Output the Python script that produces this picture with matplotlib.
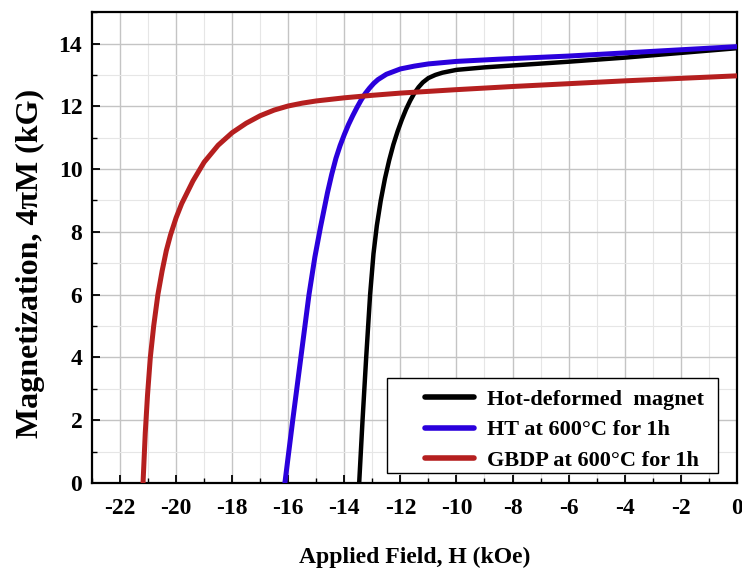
import numpy as np
import matplotlib
matplotlib.use("Agg")
import matplotlib.pyplot as plt
from matplotlib.ticker import MultipleLocator
from matplotlib.patches import Rectangle

plt.rcParams['font.family'] = ['Liberation Serif', 'DejaVu Serif']
plt.rcParams['font.weight'] = 'bold'
plt.rcParams['axes.unicode_minus'] = False

# demagnetization curves (H in kOe, 4piM in kG)
h_hot = [-13.47, -13.35, -13.22, -13.08, -12.96, -12.84, -12.7, -12.55, -12.4, -12.25,
         -12.1, -11.95, -11.8, -11.65, -11.5, -11.35, -11.2, -11.0, -10.75, -10.5,
         -10.0, -9.0, -8.0, -6.0, -4.0, -2.0, 0.0]
m_hot = [0.0, 2.0, 4.0, 6.0, 7.3, 8.2, 9.0, 9.7, 10.28, 10.78,
         11.2, 11.57, 11.9, 12.18, 12.42, 12.61, 12.76, 12.9, 13.0, 13.07,
         13.16, 13.24, 13.3, 13.42, 13.55, 13.7, 13.85]

h_ht = [-16.12, -15.84, -15.55, -15.26, -15.05, -14.85, -14.6, -14.45, -14.3, -14.15,
        -14.0, -13.85, -13.7, -13.55, -13.4, -13.25, -13.1, -12.95, -12.8, -12.5,
        -12.0, -11.5, -11.0, -10.0, -8.5, -6.0, -4.0, -2.0, 0.0]
m_ht = [0.0, 2.0, 4.0, 6.0, 7.2, 8.15, 9.25, 9.83, 10.34, 10.75,
        11.1, 11.42, 11.7, 11.96, 12.2, 12.41, 12.58, 12.73, 12.85, 13.02,
        13.19, 13.28, 13.35, 13.43, 13.5, 13.6, 13.7, 13.8, 13.9]

h_gbdp = [-21.18, -21.1, -21.02, -20.92, -20.8, -20.65, -20.5, -20.35, -20.2, -20.0,
          -19.8, -19.4, -19.0, -18.5, -18.0, -17.5, -17.0, -16.5, -16.0, -15.5,
          -15.0, -14.0, -13.0, -12.0, -10.0, -8.0, -6.0, -4.0, -2.0, 0.0]
m_gbdp = [0.0, 1.6, 2.8, 4.0, 5.0, 6.0, 6.75, 7.4, 7.9, 8.45,
          8.9, 9.62, 10.22, 10.76, 11.16, 11.46, 11.7, 11.88, 12.01, 12.1,
          12.17, 12.27, 12.35, 12.42, 12.53, 12.63, 12.72, 12.81, 12.89, 12.97]

labels = ["Hot-deformed  magnet", "HT at 600\u00b0C for 1h", "GBDP at 600\u00b0C for 1h"]
colors = ["#000000", "#2a00dc", "#b51f1f"]

fig = plt.figure(figsize=(7.42, 5.77), dpi=100)
ax = fig.add_axes([0.124, 0.163, 0.869, 0.816])

ax.plot(h_hot, m_hot, color=colors[0], lw=3.2, label=labels[0], zorder=3)
ax.plot(h_ht, m_ht, color=colors[1], lw=3.6, label=labels[1], zorder=3)
ax.plot(h_gbdp, m_gbdp, color=colors[2], lw=3.6, label=labels[2], zorder=3)

ax.set_xlim(-23, 0)
ax.set_ylim(0, 15)
ax.xaxis.set_minor_locator(MultipleLocator(1))
ax.yaxis.set_minor_locator(MultipleLocator(1))
ax.set_xticks(np.arange(-22, 1, 2))
ax.set_yticks(np.arange(0, 15, 2))

ax.grid(which='major', color='#c4c4c4', lw=1.0)
ax.grid(which='minor', color='#e6e6e6', lw=0.8)
ax.set_axisbelow(True)

ax.tick_params(which='major', direction='in', length=6, width=1.3, labelsize=17)
ax.tick_params(axis='x', which='major', pad=11)
ax.tick_params(axis='y', which='major', pad=7)
ax.tick_params(which='minor', direction='in', length=3.5, width=1.0)
for s in ax.spines.values():
    s.set_linewidth(1.6)

ax.set_xlabel("Applied Field, H (kOe)", fontsize=17, fontweight='bold', labelpad=20)
ax.set_ylabel("Magnetization, 4\u03c0M (kG)", fontsize=23, fontweight='bold')
ax.yaxis.set_label_coords(-0.073, 0.467)

# legend box (wider on the left than matplotlib's own frame)
ax.add_patch(Rectangle((0.457, 0.021), 0.5135, 0.202, transform=ax.transAxes,
                       facecolor='white', edgecolor='black', lw=1.0, zorder=4))
leg = ax.legend(loc='lower right', bbox_to_anchor=(0.953, 0.021), borderaxespad=0,
                fontsize=16, frameon=False, handlelength=2.2,
                handletextpad=0.6, borderpad=0.1, labelspacing=0.45)
leg.set_zorder(5)
for t in leg.get_texts():
    t.set_fontweight('bold')
for l in leg.get_lines():
    l.set_linewidth(4)
    l.set_solid_capstyle('round')

fig.savefig("out.png", dpi=100)
